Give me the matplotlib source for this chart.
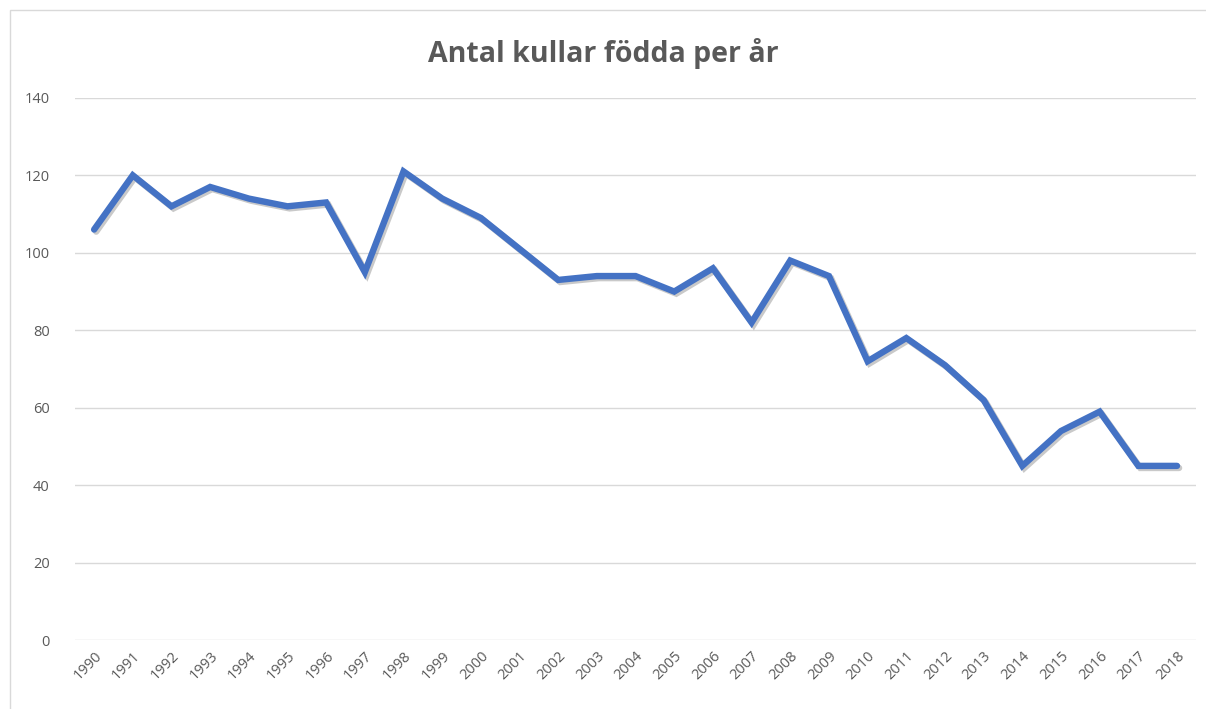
import matplotlib
matplotlib.use("Agg")
import matplotlib.pyplot as plt
import matplotlib.patheffects as pe
from matplotlib.patches import Rectangle

years = [str(y) for y in range(1990, 2019)]
kullar = [106, 120, 112, 117, 114, 112, 113, 95, 121, 114, 109, 101, 93, 94, 94,
          90, 96, 82, 98, 94, 72, 78, 71, 62, 45, 54, 59, 45, 45]
yticks = [0, 20, 40, 60, 80, 100, 120, 140]

plt.rcParams['font.family'] = ['Open Sans', 'DejaVu Sans']

fig = plt.figure(figsize=(12.06, 7.09), dpi=100)
ax = fig.add_axes([0.062, 0.097, 0.93, 0.765])

x = range(len(years))
ax.plot(x, kullar, color='#4472C4', linewidth=4.6, solid_joinstyle='miter',
        solid_capstyle='round',
        path_effects=[pe.SimpleLineShadow(offset=(1.5, -1.5), shadow_color='#888888', alpha=0.45),
                      pe.Normal()], zorder=3)

ax.set_xlim(-0.5, len(years) - 0.5)
ax.set_ylim(0, 140)
ax.set_yticks(yticks)
ax.set_xticks(list(x))
ax.set_xticklabels(years, rotation=45, ha='right', rotation_mode='anchor')
ax.tick_params(axis='both', length=0, colors='#595959', labelsize=10.5)
ax.tick_params(axis='y', pad=18)
ax.tick_params(axis='x', pad=6)
ax.grid(axis='y', color='#D9D9D9', linewidth=1)
ax.set_axisbelow(True)
for s in ax.spines.values():
    s.set_visible(False)

fig.text(0.5, 0.925, 'Antal kullar födda per år', ha='center', va='center',
         fontsize=20.5, fontweight='bold', color='#595959')

fig.patches.append(Rectangle((0.008, -0.01), 1.0, 0.996, transform=fig.transFigure,
                             fill=False, edgecolor='#D9D9D9', linewidth=1))

fig.savefig('out.png', dpi=100)
